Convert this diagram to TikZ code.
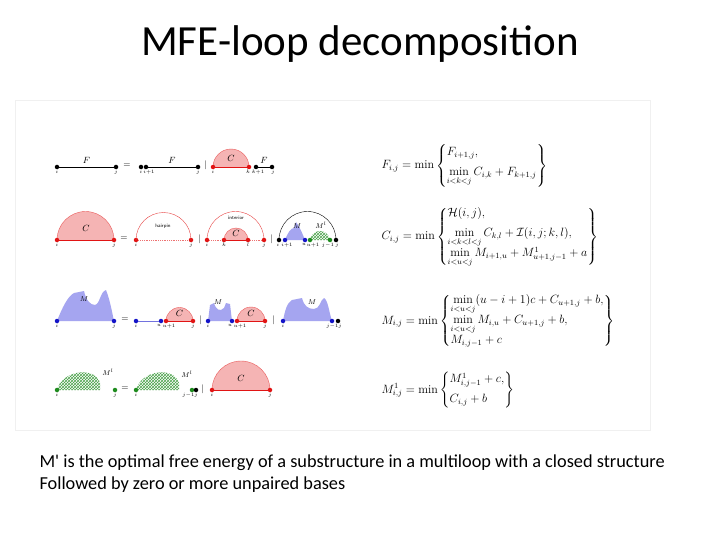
\documentclass[tikz,border=0pt]{standalone}
\usepackage{fontspec}
\usepackage{amsmath}
\newfontfamily\carl{Carlito}
\usetikzlibrary{patterns}
\definecolor{pinkc}{RGB}{245,180,180}
\definecolor{redd}{RGB}{225,20,20}
\definecolor{blued}{RGB}{20,20,200}
\definecolor{bluef}{RGB}{165,165,240}
\definecolor{greend}{RGB}{30,140,30}
\tikzset{
 dot/.style={circle,fill=#1,inner sep=0pt,minimum size=4.5pt},
 lab/.style={font=\tiny\itshape,inner sep=0.5pt},
 big/.style={font=\small\itshape},
 op/.style={font=\small},
 hatchm/.style={pattern=crosshatch,pattern color=greend!80},
 eqn/.style={anchor=west,font=\large},
}
\begin{document}
\begin{tikzpicture}[x=1pt,y=-1pt]
\useasboundingbox (0,0) rectangle (720,540);
\fill[white] (0,0) rectangle (720,540);
\draw[black!6] (15,100) rectangle (650,430);
\node[font=\carl\fontsize{43}{50}\selectfont] (title) at (360,44) {MFE-loop decomposition};
\node[font=\carl\fontsize{18.3}{22}\selectfont,anchor=west,align=left] (cap) at (36,474) {M' is the optimal free energy of a substructure in a multiloop with a closed structure\\Followed by zero or more unpaired bases};

% Row 1
\node[dot=black,label={[lab]below:$i$}] (a1) at (57,167) {};
\node[dot=black,label={[lab]below:$j$}] (a2) at (116,167) {};
\draw (a1)--(a2) node[midway,above,big]{$F$};
\node[op] (e1) at (127,166) {$=$};
\node[dot=black,label={[lab]below:$i$}] (b1) at (141,167) {};
\node[dot=black,label={[lab,xshift=3pt]below:$i{+}1$}] (b2) at (146,167) {};
\node[dot=black,label={[lab]below:$j$}] (b3) at (198,167) {};
\draw (b2)--(b3) node[midway,above,big]{$F$};
\node[op] (v1) at (206,165) {$|$};
\fill[pinkc] (213,167) arc (180:360:18) -- cycle;
\draw[redd!70] (213,167) arc (180:360:18);
\node[big] at (231,158) {$C$};
\node[dot=redd,label={[lab]below:$i$}] (c1) at (213,167) {};
\node[dot=redd,label={[lab,xshift=-1pt]below:$k$}] (c2) at (249,167) {};
\draw[redd,thick] (c1)--(c2);
\node[dot=black,label={[lab,xshift=2pt]below:$k{+}1$}] (c3) at (256,167) {};
\node[dot=black,label={[lab,xshift=1pt]below:$j$}] (c4) at (272,167) {};
\draw (c3)--(c4) node[midway,above,big]{$F$};

% Row 2
\fill[pinkc] (57,240) arc (180:360:28.5) -- cycle;
\draw[redd!70] (57,240) arc (180:360:28.5);
\node[big] at (86,228) {$C$};
\node[dot=redd,label={[lab]below:$i$}] (d1) at (57,240) {};
\node[dot=redd,label={[lab]below:$j$}] (d2) at (114,240) {};
\draw[redd,thick] (d1)--(d2);
\node[op] (e2) at (124,239) {$=$};
\node[dot=redd,label={[lab]below:$i$}] (h1) at (136,240) {};
\node[dot=redd,label={[lab]below:$j$}] (h2) at (191,240) {};
\draw[redd!80] (136,240) arc (180:360:27.5);
\draw[redd!60,densely dotted,thick] (h1)--(h2);
\node[font=\tiny\sffamily] at (163,226) {hairpin};
\node[op] (v2) at (200,239) {$|$};
\draw[redd!80] (207,240) arc (180:360:28.5);
\node[font=\tiny\sffamily] at (236,218) {interior};
\fill[pinkc] (224,240) arc (180:360:12) -- cycle;
\draw[redd!70] (224,240) arc (180:360:12);
\node[big] at (236,233) {$C$};
\node[dot=redd,label={[lab]below:$i$}] (k1) at (207,240) {};
\node[dot=redd,label={[lab]below:$k$}] (k2) at (224,240) {};
\node[dot=redd,label={[lab]below:$l$}] (k3) at (248,240) {};
\node[dot=redd,label={[lab]below:$j$}] (k4) at (264,240) {};
\draw[redd!60,densely dotted,thick] (k1)--(k2);
\draw[redd,thick] (k2)--(k3);
\draw[redd!60,densely dotted,thick] (k3)--(k4);
\node[op] (v3) at (272,239) {$|$};
\draw (279,240) arc (180:360:28.5);
\fill[bluef] (285,240) .. controls (288,232) and (291,228) .. (294,228) -- (296,222) .. controls (299,226) and (301,230) .. (305,240) -- cycle;
\fill[hatchm] (310,240) .. controls (312,228) and (328,228) .. (330,240) -- cycle;
\node[font=\scriptsize\itshape] at (297,226) {$M$};
\node[font=\scriptsize\itshape] at (321,225) {$M^l$};
\node[dot=black,label={[lab,xshift=-1pt]below:$i$}] (m1) at (279,240) {};
\node[dot=blued,label={[lab,xshift=2pt]below:$i{+}1$}] (m2) at (285,240) {};
\node[dot=blued,label={[lab,xshift=-1pt]below:$u$}] (m3) at (305,240) {};
\node[dot=greend,label={[lab,xshift=3pt]below:$u{+}1$}] (m4) at (310,240) {};
\node[dot=greend,label={[lab,xshift=-2pt]below:$j{-}1$}] (m5) at (330,240) {};
\node[dot=black,label={[lab,xshift=1pt]below:$j$}] (m6) at (336,240) {};

% Row 3
\fill[bluef] (57,321) .. controls (62,308) and (68,296) .. (74,293) -- (84,291) .. controls (86,300) and (90,305) .. (95,305) .. controls (100,304) and (100,292) .. (106,290) .. controls (110,300) and (112,312) .. (114,321) -- cycle;
\node[font=\scriptsize\itshape] at (84,299) {$M$};
\node[dot=blued,label={[lab]below:$i$}] (n1) at (57,321) {};
\node[dot=blued,label={[lab]below:$j$}] (n2) at (114,321) {};
\node[op] (e3) at (125,320) {$=$};
\node[dot=blued,label={[lab]below:$i$}] (p1) at (136,321) {};
\node[dot=blued,label={[lab,xshift=-2pt]below:$u$}] (p2) at (161,321) {};
\draw[blued!60] (p1)--(p2);
\fill[pinkc] (166,321) arc (180:360:13.5) -- cycle;
\draw[redd!70] (166,321) arc (180:360:13.5);
\node[big] at (179.5,313) {$C$};
\node[dot=redd,label={[lab,xshift=3pt]below:$u{+}1$}] (p3) at (166,321) {};
\node[dot=redd,label={[lab]below:$j$}] (p4) at (193,321) {};
\draw[redd,thick] (p3)--(p4);
\node[op] (v4) at (201,320) {$|$};
\fill[bluef] (208,321) -- (210,305) -- (214,303) .. controls (216,310) and (220,312) .. (224,308) -- (226,303) -- (230,304) -- (232,321) -- cycle;
\node[font=\scriptsize\itshape] at (218,302) {$M$};
\node[dot=blued,label={[lab]below:$i$}] (q1) at (208,321) {};
\node[dot=blued,label={[lab,xshift=-2pt]below:$u$}] (q2) at (232,321) {};
\fill[pinkc] (237,321) arc (180:360:14) -- cycle;
\draw[redd!70] (237,321) arc (180:360:14);
\node[big] at (251,313) {$C$};
\node[dot=redd,label={[lab,xshift=3pt]below:$u{+}1$}] (q3) at (237,321) {};
\node[dot=redd,label={[lab]below:$j$}] (q4) at (265,321) {};
\draw[redd,thick] (q3)--(q4);
\node[op] (v5) at (274,320) {$|$};
\fill[bluef] (283,321) .. controls (285,310) and (287,303) .. (292,300) -- (302,298) .. controls (304,306) and (308,309) .. (314,309) .. controls (320,309) and (320,300) .. (324,298) .. controls (328,300) and (329,312) .. (332,321) -- cycle;
\node[font=\scriptsize\itshape] at (312,302) {$M$};
\node[dot=blued,label={[lab]below:$i$}] (r1) at (283,321) {};
\node[dot=blued] (r2) at (332,321) {};
\node[dot=black,label={[lab,xshift=-4pt]below:$j{-}1j$}] (r3) at (338,321) {};

% Row 4
\fill[hatchm] (57,390) .. controls (62,370) and (95,366) .. (100,383) -- (100,390) -- cycle;
\node[font=\scriptsize\itshape] at (108,372) {$M^l$};
\node[dot=greend,label={[lab]below:$i$}] (s1) at (57,390) {};
\node[dot=greend,label={[lab]below:$j$}] (s2) at (115,390) {};
\node[op] (e4) at (125,389) {$=$};
\fill[hatchm] (136,390) .. controls (141,370) and (174,366) .. (179,383) -- (179,390) -- cycle;
\node[font=\scriptsize\itshape] at (187,374) {$M^l$};
\node[dot=greend,label={[lab,xshift=-2pt]below:$j{-}1j$}] (t2) at (192,390) {};
\node[dot=greend,label={[lab]below:$i$}] (t1) at (136,390) {};
\node[dot=black] (t3) at (196,390) {};
\node[op] (v6) at (203,389) {$|$};
\fill[pinkc] (212,390) arc (180:360:29) -- cycle;
\draw[redd!70] (212,390) arc (180:360:29);
\node[big] at (241,378) {$C$};
\node[dot=redd,label={[lab]below:$i$}] (u1) at (212,390) {};
\node[dot=redd,label={[lab]below:$j$}] (u2) at (270,390) {};
\draw[redd,thick] (u1)--(u2);

% Equations
\node[eqn] (eqF) at (378,166) {$F_{i,j}=\min\left\{\begin{matrix}F_{i+1,j},\hfill\\[6pt] \min\limits_{i<k<j} C_{i,k}+F_{k+1,j}\end{matrix}\right\}$};
\node[eqn] (eqC) at (378,237) {$C_{i,j}=\min\left\{\begin{matrix}\mathcal{H}(i,j),\hfill\\[6pt] \min\limits_{i<k<l<j} C_{k,l}+\mathcal{I}(i,j;k,l),\hfill\\[6pt] \min\limits_{i<u<j} M_{i+1,u}+M^1_{u+1,j-1}+a\end{matrix}\right\}$};
\node[eqn] (eqM) at (378,321) {$M_{i,j}=\min\left\{\begin{matrix}\min\limits_{i<u<j}(u-i+1)c+C_{u+1,j}+b,\\[6pt] \min\limits_{i<u<j} M_{i,u}+C_{u+1,j}+b,\hfill\\[6pt] M_{i,j-1}+c\hfill\end{matrix}\right\}$};
\node[eqn] (eqM1) at (378,390) {$M^1_{i,j}=\min\left\{\begin{matrix}M^1_{i,j-1}+c,\\[6pt] C_{i,j}+b\hfill\end{matrix}\right\}$};
\end{tikzpicture}
\end{document}
